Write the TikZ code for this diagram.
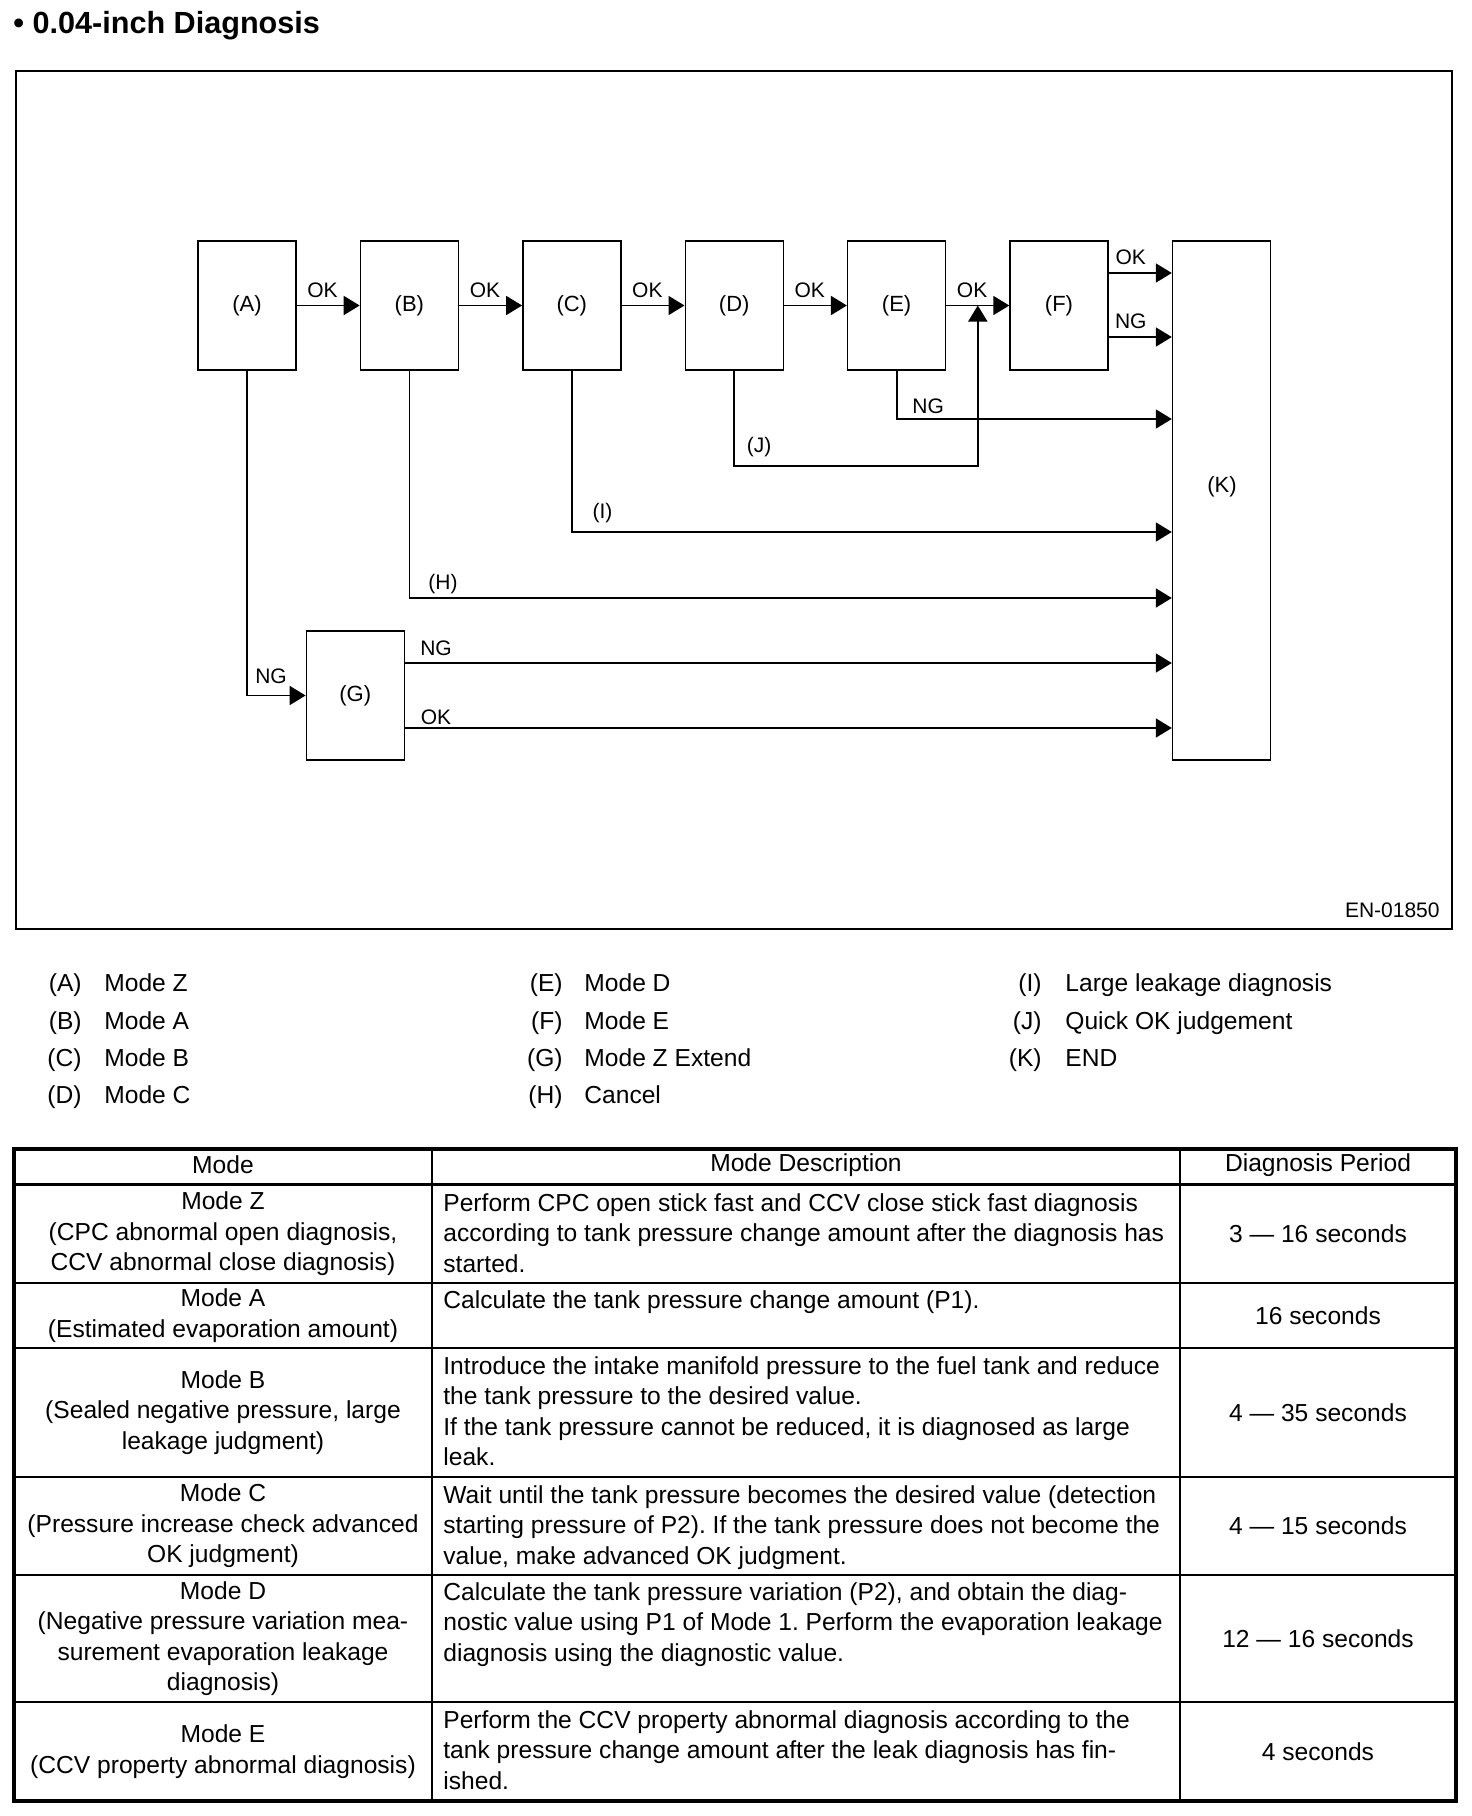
\documentclass[tikz,border=0pt]{standalone}
\usepackage{fontspec}
\setmainfont{Liberation Sans}
\usetikzlibrary{arrows.meta,calc}
\newcommand{\figtitlefont}{\fontsize{15.3}{18}\selectfont\bfseries}
\newcommand{\figboxfont}{\fontsize{11}{13}\selectfont}
\newcommand{\figtagfont}{\fontsize{10.5}{12.5}\selectfont}
\newcommand{\figbodyfont}{\fontsize{12.3}{15.2}\selectfont}
\frenchspacing

\begin{document}
\begin{tikzpicture}[x=0.5pt,y=-0.5pt,>={Triangle[length=8pt,width=9.5pt]},
  modebox/.style={draw,line width=0.7pt,minimum width=49pt,minimum height=64.5pt,inner sep=0pt,font=\figboxfont},
  flowline/.style={->,line width=0.9pt},
  flowtag/.style={inner sep=0pt,font=\figtagfont},
  oktag/.style={inner sep=0pt,font=\figtagfont,above=3.5pt,pos=0.41},
  legtag/.style={inner sep=0pt,font=\figbodyfont,anchor=base east},
  legtext/.style={inner sep=0pt,font=\figbodyfont,anchor=base west},
  celltext/.style={inner sep=0pt,font=\figbodyfont,align=center},
  desctext/.style={inner sep=0pt,font=\figbodyfont,align=left,anchor=north west}]
\useasboundingbox (0,0) rectangle (1472,1816);

\node[inner sep=0pt,anchor=base west,font=\figtitlefont] (title) at (13,33) {• 0.04-inch Diagnosis};
\draw[line width=0.9pt] (16,71) rectangle (1452,929);

% the modes
\node[modebox] (A) at (247,305.5) {(A)};
\node[modebox] (B) at (409.4,305.5) {(B)};
\node[modebox] (C) at (571.8,305.5) {(C)};
\node[modebox] (D) at (734.2,305.5) {(D)};
\node[modebox] (E) at (896.6,305.5) {(E)};
\node[modebox] (F) at (1059,305.5) {(F)};
\node[modebox] (G) at (355.3,695.5) {(G)};
\node[modebox,minimum height=259.5pt] (K) at (1221.5,500.5) {};
\node[flowtag,font=\figboxfont] (Ktext) at (1222,487) {(K)};

% OK chain
\draw[flowline] (A) -- node[oktag] (okA) {OK} (B);
\draw[flowline] (B) -- node[oktag] (okB) {OK} (C);
\draw[flowline] (C) -- node[oktag] (okC) {OK} (D);
\draw[flowline] (D) -- node[oktag] (okD) {OK} (E);
\draw[flowline] (E) -- node[oktag] (okE) {OK} (F);
\draw[flowline] (F.east |- 0,273) -- node[oktag,pos=0.35] (okF) {OK} (K.west |- 0,273);
\draw[flowline] (F.east |- 0,337) -- node[oktag,pos=0.35] (ngF) {NG} (K.west |- 0,337);

% branches to the end
\draw[flowline] (E.south) |- (K.west |- 0,419);
\node[flowtag,anchor=base west] (ngE) at (912,413) {NG};
\coordinate (Jup) at ($(E.east)!0.5!(F.west)$);
\draw[flowline] (D.south) |- (Jup |- 0,466) -- (Jup);
\node[flowtag] (tagJ) at (759,447) {(J)};
\draw[flowline] (C.south) |- (K.west |- 0,532);
\node[flowtag] (tagI) at (602.5,513) {(I)};
\draw[flowline] (B.south) |- (K.west |- 0,598);
\node[flowtag] (tagH) at (443,584) {(H)};
\draw[flowline] (A.south) |- (G.west);
\node[flowtag] (ngA) at (271,676) {NG};
\draw[flowline] (G.east |- 0,663) -- (K.west |- 0,663);
\node[flowtag,anchor=base] (ngG) at (436,655) {NG};
\draw[flowline] (G.east |- 0,728) -- (K.west |- 0,728);
\node[flowtag,anchor=base] (okG) at (436,724) {OK};

\node[flowtag,anchor=base east] (code) at (1440,917) {EN-01850};

% key
\node[legtag] (tA) at (82,991.7) {(A)};   \node[legtext] (kA) at (104,991.7) {Mode Z};
\node[legtag] (tB) at (82,1029) {(B)};    \node[legtext] (kB) at (104,1029) {Mode A};
\node[legtag] (tC) at (82,1066.3) {(C)};  \node[legtext] (kC) at (104,1066.3) {Mode B};
\node[legtag] (tD) at (82,1103.6) {(D)};  \node[legtext] (kD) at (104,1103.6) {Mode C};
\node[legtag] (tE) at (563,991.7) {(E)};  \node[legtext] (kE) at (584,991.7) {Mode D};
\node[legtag] (tF) at (563,1029) {(F)};   \node[legtext] (kF) at (584,1029) {Mode E};
\node[legtag] (tG) at (563,1066.3) {(G)}; \node[legtext] (kG) at (584,1066.3) {Mode Z Extend};
\node[legtag] (tH) at (563,1103.6) {(H)}; \node[legtext] (kH) at (584,1103.6) {Cancel};
\node[legtag] (tI) at (1042,991.7) {(I)}; \node[legtext] (kI) at (1065,991.7) {Large leakage diagnosis};
\node[legtag] (tJ) at (1042,1029) {(J)};  \node[legtext] (kJ) at (1065,1029) {Quick OK judgement};
\node[legtag] (tK) at (1042,1066.3) {(K)};\node[legtext] (kK) at (1065,1066.3) {END};

% table
\draw[line width=1.8pt] (14,1149) rectangle (1456,1801);
\draw[line width=1.8pt] (14,1184.5) -- (1456,1184.5);
\draw[line width=1.3pt] (14,1283) -- (1456,1283);
\draw[line width=1.3pt] (14,1348) -- (1456,1348);
\draw[line width=1.3pt] (14,1477) -- (1456,1477);
\draw[line width=1.3pt] (14,1575) -- (1456,1575);
\draw[line width=1.3pt] (14,1702) -- (1456,1702);
\draw[line width=0.8pt] (432,1149) -- (432,1801);
\draw[line width=0.8pt] (1180,1149) -- (1180,1801);

\node[celltext] (hmode) at (223,1165) {Mode};
\node[celltext] (hdesc) at (806,1165) {Mode Description};
\node[celltext] (hper) at (1318,1165) {Diagnosis Period};

\node[celltext] (mZ) at (223,1233.7) {Mode Z\\(CPC abnormal open diagnosis,\\CCV abnormal close diagnosis)};
\node[desctext] (dZ) at (443,1193) {Perform CPC open stick fast and CCV close stick fast diagnosis\\according to tank pressure change amount after the diagnosis has\\started.};
\node[celltext] (pZ) at (1318,1233.7) {3 — 16 seconds};

\node[celltext] (mA) at (223,1315.5) {Mode A\\(Estimated evaporation amount)};
\node[desctext] (dA) at (443,1290) {Calculate the tank pressure change amount (P1).};
\node[celltext] (pA) at (1318,1315.5) {16 seconds};

\node[celltext] (mB) at (223,1412.5) {Mode B\\(Sealed negative pressure, large\\leakage judgment)};
\node[desctext] (dB) at (443,1356) {Introduce the intake manifold pressure to the fuel tank and reduce\\the tank pressure to the desired value.\\If the tank pressure cannot be reduced, it is diagnosed as large\\leak.};
\node[celltext] (pB) at (1318,1412.5) {4 — 35 seconds};

\node[celltext] (mC) at (223,1526) {Mode C\\(Pressure increase check advanced\\OK judgment)};
\node[desctext] (dC) at (443,1485) {Wait until the tank pressure becomes the desired value (detection\\starting pressure of P2). If the tank pressure does not become the\\value, make advanced OK judgment.};
\node[celltext] (pC) at (1318,1526) {4 — 15 seconds};

\node[celltext] (mD) at (223,1638.5) {Mode D\\(Negative pressure variation mea-\\surement evaporation leakage\\diagnosis)};
\node[desctext] (dD) at (443,1582) {Calculate the tank pressure variation (P2), and obtain the diag-\\nostic value using P1 of Mode 1. Perform the evaporation leakage\\diagnosis using the diagnostic value.};
\node[celltext] (pD) at (1318,1638.5) {12 — 16 seconds};

\node[celltext] (mE) at (223,1751.5) {Mode E\\(CCV property abnormal diagnosis)};
\node[desctext] (dE) at (443,1710) {Perform the CCV property abnormal diagnosis according to the\\tank pressure change amount after the leak diagnosis has fin-\\ished.};
\node[celltext] (pE) at (1318,1751.5) {4 seconds};
\end{tikzpicture}
\end{document}
